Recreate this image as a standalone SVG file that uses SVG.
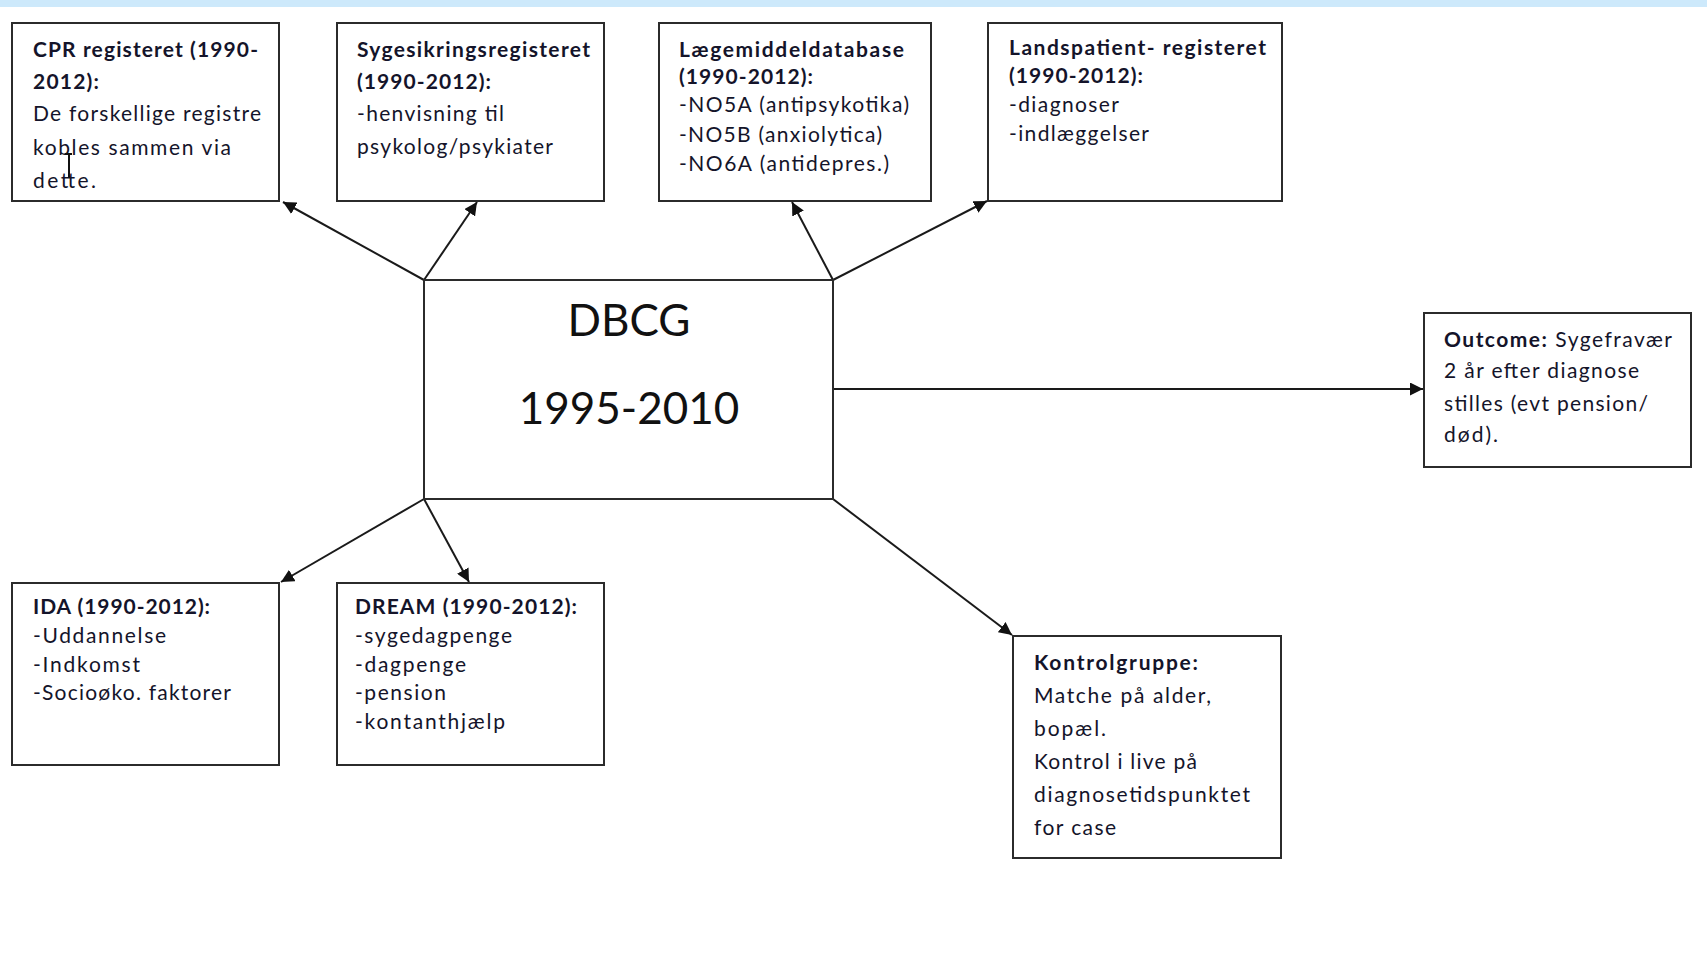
<svg xmlns="http://www.w3.org/2000/svg" width="1707" height="956" viewBox="0 0 1707 956">
<defs>
<marker id="ah" viewBox="0 0 10 10" refX="10" refY="5" markerWidth="13" markerHeight="13" markerUnits="userSpaceOnUse" orient="auto">
<path d="M0,0 L10,5 L0,10 z" fill="#111"/>
</marker>
<style>
.box{fill:#fff;stroke:#2b2b2b;stroke-width:2}
.t{font-family:Lato,"Open Sans","Liberation Sans",sans-serif;font-size:21px;fill:#14142a}
.b{font-weight:bold}
.big{font-family:Lato,"Open Sans","Liberation Sans",sans-serif;font-size:44px;fill:#111;text-anchor:middle}
.c{fill:none;stroke:#1a1a1a;stroke-width:2;marker-end:url(#ah)}
</style>
</defs>
<rect width="1707" height="956" fill="#fff"/>
<rect x="0" y="0" width="1707" height="7" fill="#cde9fb"/>

<g id="connectors">
<line class="c" x1="424" y1="280" x2="283" y2="202"/>
<line class="c" x1="424" y1="280" x2="477" y2="202"/>
<line class="c" x1="833" y1="280" x2="792" y2="202"/>
<line class="c" x1="833" y1="280" x2="987" y2="201"/>
<line class="c" x1="833" y1="389" x2="1423" y2="389"/>
<line class="c" x1="424" y1="499" x2="281" y2="582"/>
<line class="c" x1="424" y1="499" x2="469" y2="582"/>
<line class="c" x1="833" y1="499" x2="1012" y2="635"/>
</g>

<g id="cpr">
<rect class="box" x="12" y="23" width="267" height="178"/>
<text class="t b" x="33" y="57" textLength="225" lengthAdjust="spacing">CPR registeret (1990-</text>
<text class="t b" x="33" y="89" textLength="66" lengthAdjust="spacing">2012):</text>
<text class="t" x="33" y="121" textLength="228" lengthAdjust="spacing">De forskellige registre</text>
<text class="t" x="33" y="155" textLength="198" lengthAdjust="spacing">kobles sammen via</text>
<text class="t" x="33" y="188" textLength="63" lengthAdjust="spacing">dette.</text>
<path d="M65,154 h7 M69,154 v24" stroke="#111" stroke-width="2" fill="none"/>
</g>

<g id="sygesikring">
<rect class="box" x="337" y="23" width="267" height="178"/>
<text class="t b" x="357" y="57" textLength="233" lengthAdjust="spacing">Sygesikringsregisteret</text>
<text class="t b" x="357" y="89" textLength="134" lengthAdjust="spacing">(1990-2012):</text>
<text class="t" x="357" y="121" textLength="147" lengthAdjust="spacing">-henvisning til</text>
<text class="t" x="357" y="154" textLength="196" lengthAdjust="spacing">psykolog/psykiater</text>
</g>

<g id="laegemiddel">
<rect class="box" x="659" y="23" width="272" height="178"/>
<text class="t b" x="679" y="57" textLength="225" lengthAdjust="spacing">Lægemiddeldatabase</text>
<text class="t b" x="679" y="84" textLength="134" lengthAdjust="spacing">(1990-2012):</text>
<text class="t" x="679" y="112" textLength="230" lengthAdjust="spacing">-NO5A (antipsykotika)</text>
<text class="t" x="679" y="142" textLength="203" lengthAdjust="spacing">-NO5B (anxiolytica)</text>
<text class="t" x="679" y="171" textLength="210" lengthAdjust="spacing">-NO6A (antidepres.)</text>
</g>

<g id="landspatient">
<rect class="box" x="988" y="23" width="294" height="178"/>
<text class="t b" x="1009" y="55" textLength="257" lengthAdjust="spacing">Landspatient- registeret</text>
<text class="t b" x="1009" y="83" textLength="134" lengthAdjust="spacing">(1990-2012):</text>
<text class="t" x="1009" y="112" textLength="110" lengthAdjust="spacing">-diagnoser</text>
<text class="t" x="1009" y="141" textLength="140" lengthAdjust="spacing">-indlæggelser</text>
</g>

<g id="dbcg">
<rect class="box" x="424" y="280" width="409" height="219"/>
<text class="big" x="629" y="336">DBCG</text>
<text class="big" x="629" y="424">1995-2010</text>
</g>

<g id="outcome">
<rect class="box" x="1424" y="313" width="267" height="154"/>
<text class="t" x="1444" y="347" textLength="228" lengthAdjust="spacing"><tspan class="b">Outcome:</tspan> Sygefravær</text>
<text class="t" x="1444" y="378" textLength="195" lengthAdjust="spacing">2 år efter diagnose</text>
<text class="t" x="1444" y="411" textLength="204" lengthAdjust="spacing">stilles (evt pension/</text>
<text class="t" x="1444" y="442" textLength="54" lengthAdjust="spacing">død).</text>
</g>

<g id="ida">
<rect class="box" x="12" y="583" width="267" height="182"/>
<text class="t b" x="33" y="614" textLength="177" lengthAdjust="spacing">IDA (1990-2012):</text>
<text class="t" x="33" y="643" textLength="133" lengthAdjust="spacing">-Uddannelse</text>
<text class="t" x="33" y="672" textLength="107" lengthAdjust="spacing">-Indkomst</text>
<text class="t" x="33" y="700" textLength="198" lengthAdjust="spacing">-Socioøko. faktorer</text>
</g>

<g id="dream">
<rect class="box" x="337" y="583" width="267" height="182"/>
<text class="t b" x="355" y="614" textLength="222" lengthAdjust="spacing">DREAM (1990-2012):</text>
<text class="t" x="355" y="643" textLength="157" lengthAdjust="spacing">-sygedagpenge</text>
<text class="t" x="355" y="672" textLength="111" lengthAdjust="spacing">-dagpenge</text>
<text class="t" x="355" y="700" textLength="91" lengthAdjust="spacing">-pension</text>
<text class="t" x="355" y="729" textLength="150" lengthAdjust="spacing">-kontanthjælp</text>
</g>

<g id="kontrol">
<rect class="box" x="1013" y="636" width="268" height="222"/>
<text class="t b" x="1034" y="670" textLength="164" lengthAdjust="spacing">Kontrolgruppe:</text>
<text class="t" x="1034" y="703" textLength="177" lengthAdjust="spacing">Matche på alder,</text>
<text class="t" x="1034" y="736" textLength="72" lengthAdjust="spacing">bopæl.</text>
<text class="t" x="1034" y="769" textLength="163" lengthAdjust="spacing">Kontrol i live på</text>
<text class="t" x="1034" y="802" textLength="216" lengthAdjust="spacing">diagnosetidspunktet</text>
<text class="t" x="1034" y="835" textLength="82" lengthAdjust="spacing">for case</text>
</g>
</svg>
